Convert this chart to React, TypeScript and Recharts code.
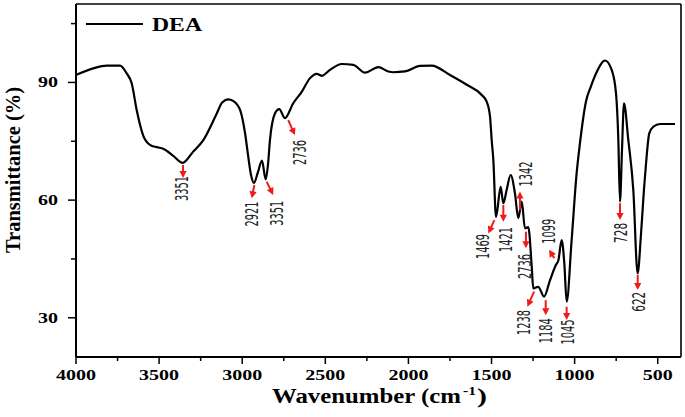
import React from 'react';
import { LineChart, Line, XAxis, YAxis, ReferenceLine, ReferenceDot, Legend, Customized } from 'recharts';

// Spectrum (wavenumber cm-1, transmittance %)
const wavenumber = [4000, 3896, 3815, 3735, 3695, 3665, 3635, 3595, 3555, 3514, 3475, 3415, 3358, 3296, 3234, 3153, 3122, 3084, 3055, 3013, 2983, 2965, 2947, 2929, 2905, 2881, 2859, 2845, 2833, 2803, 2777, 2743, 2693, 2642, 2592, 2552, 2522, 2472, 2401, 2332, 2261, 2181, 2121, 2091, 2021, 1930, 1860, 1750, 1649, 1559, 1529, 1509, 1499, 1489, 1473, 1445, 1429, 1409, 1385, 1359, 1339, 1318, 1299, 1279, 1258, 1249, 1219, 1184, 1148, 1112, 1098, 1078, 1062, 1048, 1018, 988, 968, 932, 903, 871, 817, 777, 751, 737, 727, 715, 703, 677, 647, 621, 601, 583, 571, 551, 527, 486, 396];
const transmittance = [91.9, 93.6, 94.3, 94.3, 92.3, 89.8, 83.0, 76.4, 74.1, 73.5, 73.1, 71.3, 69.5, 72.3, 75.3, 82.1, 84.8, 85.7, 85.3, 83.0, 77.1, 71.5, 66.4, 64.4, 67.2, 70.1, 65.3, 69.0, 75.3, 82.1, 83.2, 80.9, 84.7, 87.6, 91.1, 92.2, 91.7, 93.2, 94.7, 94.5, 92.5, 93.9, 92.8, 92.6, 92.8, 94.2, 94.3, 91.9, 89.4, 86.8, 85.1, 81.3, 75.3, 70.2, 55.7, 63.4, 59.2, 62.6, 66.4, 61.7, 55.4, 59.6, 52.8, 53.1, 43.0, 37.5, 37.9, 35.4, 39.6, 43.5, 44.6, 49.8, 43.9, 34.1, 49.8, 66.8, 74.5, 85.1, 88.9, 92.3, 95.6, 93.2, 87.2, 75.3, 59.6, 72.8, 84.7, 75.3, 62.6, 41.3, 51.1, 62.6, 69.0, 77.0, 78.7, 79.4, 79.4];

const xTicks = [4000, 3750, 3500, 3250, 3000, 2750, 2500, 2250, 2000, 1750, 1500, 1250, 1000, 750, 500];
const xMajor = [4000, 3500, 3000, 2500, 2000, 1500, 1000, 500];
const yTicks = [30, 45, 60, 75, 90, 105];
const yMajor = [30, 60, 90];

// Peak annotations (label, anchor wavenumber, anchor transmittance)
const annoLabels = ['3351', '2921', '3351', '2736', '1469', '1421', '1342', '2736', '1238', '1184', '1099', '1045', '728', '622'];
const annoWavenumber = [3356, 2927, 2853, 2723, 1483, 1429, 1329, 1293, 1244, 1174, 1122, 1048, 727, 620.5];
const annoTransmittance = [68.95, 63.85, 64.7, 80.4, 54.9, 58.75, 57.5, 51.95, 36.65, 34.5, 45.2, 32.8, 59.2, 40.9];

// layout: arrow dx, arrow dy, text dx, text dy (pixels)
const annoLayout: number[][] = [
  [0, 13, -1.5, 23.5],
  [-2.6, 13.3, -2.8, 29],
  [6.6, 13.3, 10, 31.6],
  [6.7, 15, 11.7, 32.5],
  [-6, 13.3, -11.3, 26.5],
  [0, 16.7, 2.7, 34.5],
  [0, -18.3, 6, -36],
  [0, 16.6, -1, 34.8],
  [-6.7, 15, -10.5, 30.8],
  [0, 15, 0.3, 30.5],
  [-5.3, -8.3, -5.8, -26.8],
  [0, 13.3, 1.8, 25.3],
  [0, 16.7, 0.5, 29.7],
  [0, 15, 1.3, 26.7],
];

const data = wavenumber.map((w, i) => ({ w, t: transmittance[i] }));

const SERIF = "'Liberation Serif', 'Times New Roman', serif";
const NARROW = "'Liberation Sans Narrow', 'DejaVu Sans Condensed', 'Liberation Sans', sans-serif";
const RED = '#f01a1a';

function XTick(props: any) {
  const { x, y, payload } = props;
  const v = payload.value;
  const major = xMajor.includes(v);
  const s = String(v);
  return (
    <g>
      <line x1={x} y1={y} x2={x} y2={y + (major ? 7 : 4)} stroke="#000" strokeWidth={1.5} />
      {major && (
        <text x={x} y={y + 23} textAnchor="middle" fontFamily={SERIF} fontWeight={700} fontSize={15} fill="#000" textLength={s.length * 10} lengthAdjust="spacingAndGlyphs">
          {s}
        </text>
      )}
    </g>
  );
}

function YTick(props: any) {
  const { x, y, payload } = props;
  const v = payload.value;
  const major = yMajor.includes(v);
  const s = String(v);
  return (
    <g>
      <line x1={x} y1={y} x2={x - (major ? 8 : 5)} y2={y} stroke="#000" strokeWidth={1.5} />
      {major && (
        <text x={x - 18} y={y + 5} textAnchor="end" fontFamily={SERIF} fontWeight={700} fontSize={15} fill="#000" textLength={s.length * 10} lengthAdjust="spacingAndGlyphs">
          {s}
        </text>
      )}
    </g>
  );
}

function Anno(props: any) {
  const { cx, cy, label, lay } = props;
  if (cx == null || cy == null) return null;
  const [adx, ady, tdx, tdy] = lay;
  const len = Math.hypot(adx, ady);
  const ux = adx / len;
  const uy = ady / len;
  const tipX = cx + adx;
  const tipY = cy + ady;
  const head = 7;
  const hw = 3.6;
  const bx = tipX - ux * head;
  const by = tipY - uy * head;
  const px = -uy;
  const py = ux;
  return (
    <g>
      <line x1={cx} y1={cy} x2={bx + ux} y2={by + uy} stroke={RED} strokeWidth={2} />
      <polygon points={`${tipX},${tipY} ${bx + px * hw},${by + py * hw} ${bx - px * hw},${by - py * hw}`} fill={RED} />
      <text
        transform={`translate(${cx + tdx},${cy + tdy}) rotate(-90)`}
        textAnchor="middle"
        dominantBaseline="central"
        fontFamily={NARROW}
        fontSize={17}
        fill="#222"
        textLength={label.length === 4 ? 25 : 20}
        lengthAdjust="spacingAndGlyphs"
      >
        {label}
      </text>
    </g>
  );
}

function Titles() {
  return (
    <g>
      <text x={272} y={403} fontFamily={SERIF} fontWeight={700} fontSize={21} fill="#000" textLength={189} lengthAdjust="spacingAndGlyphs">
        Wavenumber (cm
      </text>
      <text x={463} y={395} fontFamily={SERIF} fontWeight={700} fontSize={13} fill="#000" textLength={13} lengthAdjust="spacingAndGlyphs">
        -1
      </text>
      <text x={477} y={403} fontFamily={SERIF} fontWeight={700} fontSize={21} fill="#000" textLength={10} lengthAdjust="spacingAndGlyphs">
        )
      </text>
      <text transform="translate(20,170) rotate(-90)" textAnchor="middle" fontFamily={SERIF} fontWeight={700} fontSize={20} fill="#000" textLength={166} lengthAdjust="spacingAndGlyphs">
        Transmittance (%)
      </text>
    </g>
  );
}

function LegendContent() {
  return (
    <svg width={130} height={26} style={{ display: 'block', overflow: 'visible' }}>
      <line x1={0} y1={12} x2={57} y2={12} stroke="#000" strokeWidth={2} />
      <text x={66} y={18.5} fontFamily={SERIF} fontWeight={700} fontSize={18} fill="#000" textLength={50} lengthAdjust="spacingAndGlyphs">
        DEA
      </text>
    </svg>
  );
}

export default function App() {
  return (
    <div style={{ position: 'absolute', left: 0, top: 0, width: 685, height: 417, background: '#fff' }}>
      <LineChart width={685} height={417} data={data} margin={{ top: 4, right: 4, bottom: 0, left: 0 }}>
        <XAxis
          dataKey="w"
          type="number"
          domain={[360, 4000]}
          reversed
          ticks={xTicks}
          interval={0}
          tickSize={0}
          tickMargin={0}
          tick={(p: any) => <XTick {...p} />}
          axisLine={{ stroke: '#000', strokeWidth: 2 }}
          height={60}
          allowDataOverflow
        />
        <YAxis
          type="number"
          domain={[20, 110]}
          ticks={yTicks}
          interval={0}
          tickSize={0}
          tickMargin={0}
          tick={(p: any) => <YTick {...p} />}
          axisLine={{ stroke: '#000', strokeWidth: 2 }}
          width={76}
          allowDataOverflow
        />
        <ReferenceLine y={110} stroke="#000" strokeWidth={1.6} />
        <ReferenceLine x={360} stroke="#000" strokeWidth={1.6} />
        <Legend
          layout="vertical"
          align="center"
          verticalAlign="middle"
          content={() => <LegendContent />}
          wrapperStyle={{ left: 86, top: 12, width: 130, height: 26 }}
        />
        <Line type="monotone" dataKey="t" stroke="#000" strokeWidth={2.2} dot={false} isAnimationActive={false} />
        {annoLabels.map((label, i) => (
          <ReferenceDot
            key={i}
            x={annoWavenumber[i]}
            y={annoTransmittance[i]}
            r={1}
            ifOverflow="visible"
            shape={(p: any) => <Anno cx={p.cx} cy={p.cy} label={label} lay={annoLayout[i]} />}
          />
        ))}
        <Customized component={Titles} />
      </LineChart>
    </div>
  );
}
